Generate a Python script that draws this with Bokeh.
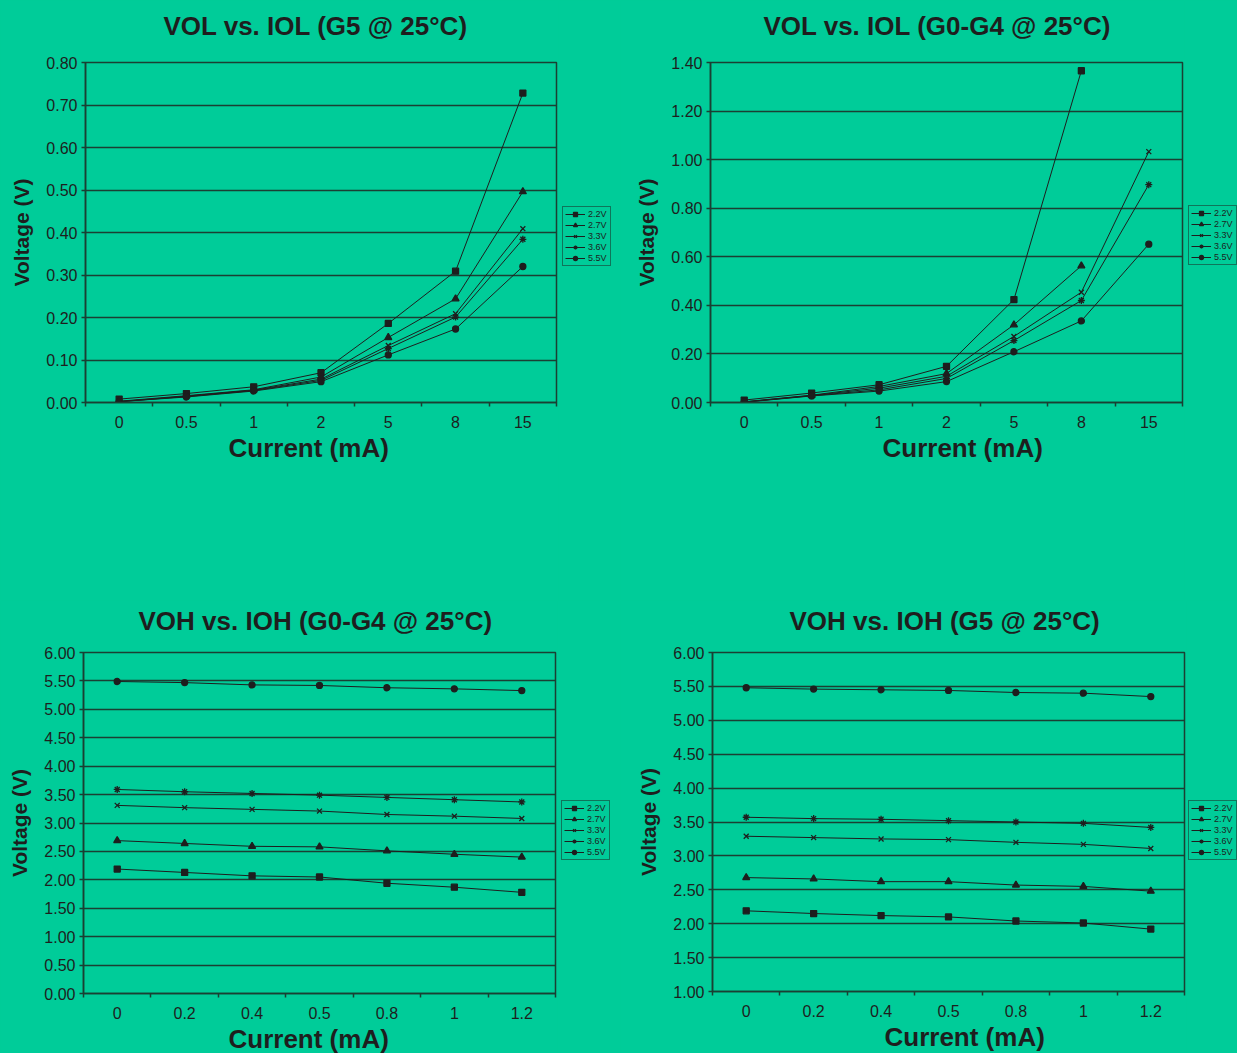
import numpy as np
from bokeh.plotting import figure
from bokeh.models import (Range1d, FixedTicker, CustomJSTickFormatter, Legend,
                          LegendItem, Title, NumeralTickFormatter)
from bokeh.layouts import row, column
from bokeh.embed import file_html
from bokeh.resources import INLINE

nan = float("nan")

# ---------------- data ----------------
series_labels = ["2.2V", "2.7V", "3.3V", "3.6V", "5.5V"]

iol_cats = ["0", "0.5", "1", "2", "5", "8", "15"]
ioh_cats = ["0", "0.2", "0.4", "0.5", "0.8", "1", "1.2"]

# VOL vs IOL (G5 @ 25C)
vol_g5_22 = [0.008, 0.021, 0.037, 0.070, 0.186, 0.309, 0.728]
vol_g5_27 = [0.003, 0.016, 0.030, 0.060, 0.153, 0.244, 0.496]
vol_g5_33 = [0.002, 0.015, 0.029, 0.055, 0.134, 0.209, 0.409]
vol_g5_36 = [0.002, 0.014, 0.028, 0.052, 0.127, 0.201, 0.384]
vol_g5_55 = [0.002, 0.013, 0.027, 0.049, 0.112, 0.173, 0.320]

# VOL vs IOL (G0-G4 @ 25C)
vol_g04_22 = [0.010, 0.039, 0.073, 0.149, 0.424, 1.366, nan]
vol_g04_27 = [0.003, 0.030, 0.066, 0.119, 0.320, 0.563, nan]
vol_g04_33 = [0.002, 0.029, 0.059, 0.108, 0.272, 0.454, 1.033]
vol_g04_36 = [0.002, 0.028, 0.052, 0.099, 0.255, 0.420, 0.897]
vol_g04_55 = [0.001, 0.027, 0.047, 0.086, 0.209, 0.336, 0.652]

# VOH vs IOH (G0-G4 @ 25C)
voh_g04_22 = [2.19, 2.13, 2.07, 2.05, 1.94, 1.87, 1.78]
voh_g04_27 = [2.69, 2.64, 2.59, 2.58, 2.51, 2.45, 2.40]
voh_g04_33 = [3.31, 3.27, 3.24, 3.21, 3.15, 3.12, 3.08]
voh_g04_36 = [3.59, 3.55, 3.52, 3.49, 3.45, 3.41, 3.37]
voh_g04_55 = [5.49, 5.47, 5.43, 5.42, 5.38, 5.36, 5.33]

# VOH vs IOH (G5 @ 25C)
voh_g5_22 = [2.19, 2.15, 2.12, 2.10, 2.04, 2.01, 1.92]
voh_g5_27 = [2.68, 2.66, 2.62, 2.62, 2.57, 2.55, 2.48]
voh_g5_33 = [3.29, 3.27, 3.25, 3.24, 3.20, 3.17, 3.11]
voh_g5_36 = [3.57, 3.55, 3.54, 3.52, 3.50, 3.48, 3.42]
voh_g5_55 = [5.48, 5.46, 5.45, 5.44, 5.41, 5.40, 5.35]

# ---------------- style ----------------
GREEN = "#00CC99"
DARK = "#1e1e1e"
GRID = "#1b3f33"
FONT = "Liberation Sans"
markers = ["square", "triangle", "x", "asterisk", "circle"]
msizes = [6, 7, 7, 7, 6]


def make_chart(title, cats, series, ymin, ymax, ystep, left, fw, top, fh,
               bottom, gap, title_offset, xlab_offset):
    n = len(cats)
    p = figure(frame_width=fw, frame_height=fh,
               min_border_left=left, min_border_right=2,
               min_border_top=top, min_border_bottom=bottom,
               x_range=Range1d(0, n), y_range=Range1d(ymin, ymax),
               output_backend="svg", toolbar_location=None, tools="")
    p.background_fill_color = GREEN
    p.border_fill_color = GREEN
    p.outline_line_color = GRID
    p.outline_line_width = 1.5

    # visible chart title (the built-in title is stacked outermost)
    p.title.text = title
    p.title.align = "left"
    p.title.offset = title_offset
    p.title.standoff = 0
    p.title.text_font = FONT
    p.title.text_font_size = "26px"
    p.title.text_font_style = "bold"
    p.title.text_color = DARK
    # background-coloured spacer between the frame and the title
    sp = Title(text=".", text_font_size="2px", text_color=GREEN, standoff=gap)
    p.add_layout(sp, "above")

    # x axis: labels at category centres, tick marks at category boundaries
    xa = p.xaxis[0]
    xa.ticker = FixedTicker(ticks=[i + 0.5 for i in range(n)],
                            minor_ticks=list(range(n + 1)))
    xa.formatter = CustomJSTickFormatter(args=dict(labels=cats),
                                         code="return labels[Math.floor(tick)];")
    xa.major_tick_line_color = None
    xa.major_tick_out = 0
    xa.major_tick_in = 0
    xa.minor_tick_out = 4
    xa.minor_tick_in = 0
    xa.minor_tick_line_color = GRID
    xa.minor_tick_line_width = 1.5
    xa.axis_line_color = GRID
    xa.axis_line_width = 1.5
    xa.major_label_standoff = 9
    xa.major_label_text_font = FONT
    xa.major_label_text_font_size = "16px"
    xa.major_label_text_color = DARK

    nt = int(round((ymax - ymin) / ystep))
    ya = p.yaxis[0]
    ya.ticker = FixedTicker(ticks=[round(ymin + i * ystep, 4) for i in range(nt + 1)])
    ya.formatter = NumeralTickFormatter(format="0.00")
    ya.minor_tick_line_color = None
    ya.major_tick_out = 4
    ya.major_tick_in = 0
    ya.major_tick_line_color = GRID
    ya.major_tick_line_width = 1.5
    ya.axis_line_color = GRID
    ya.axis_line_width = 1.5
    ya.major_label_standoff = 4
    ya.major_label_text_font = FONT
    ya.major_label_text_font_size = "16px"
    ya.major_label_text_color = DARK
    ya.axis_label = "Voltage (V)"
    ya.axis_label_text_font = FONT
    ya.axis_label_text_font_size = "21px"
    ya.axis_label_text_font_style = "bold"
    ya.axis_label_text_color = DARK
    ya.axis_label_standoff = 10

    p.xgrid.visible = False
    p.ygrid.grid_line_color = GRID
    p.ygrid.grid_line_width = 1.5

    xl = Title(text="Current (mA)", align="left", text_font=FONT,
               text_font_size="26px", text_font_style="bold", text_color=DARK,
               standoff=0, offset=xlab_offset)
    p.add_layout(xl, "below")

    xs = np.array([i + 0.5 for i in range(n)], dtype=float)
    for ys, m, s in zip(series, markers, msizes):
        ya_arr = np.array(ys, dtype=float)
        p.line(xs, ya_arr, line_color=DARK, line_width=1)
        p.scatter(xs, ya_arr, marker=m, size=s, line_color=DARK,
                  fill_color=DARK, line_width=1.3)
    return p


def make_legend_panel(width, top, fh, bottom, loc):
    """A narrow green strip beside a chart (same frame geometry) holding its legend."""
    lf = figure(frame_width=width, frame_height=fh,
                min_border_left=0, min_border_right=0,
                min_border_top=top, min_border_bottom=bottom,
                x_range=Range1d(0, 1), y_range=Range1d(0, 1),
                x_axis_location=None, y_axis_location=None,
                output_backend="svg", toolbar_location=None, tools="")
    lf.background_fill_color = GREEN
    lf.border_fill_color = GREEN
    lf.outline_line_color = None
    lf.grid.visible = False
    hidden = np.array([nan])
    items = []
    for lab, m, s in zip(series_labels, markers, msizes):
        lr = lf.line(x=hidden, y=hidden, line_color=DARK, line_width=1)
        sr = lf.scatter(x=hidden, y=hidden, marker=m, size=s, line_color=DARK,
                        fill_color=DARK, line_width=1.3)
        items.append(LegendItem(label=lab, renderers=[lr, sr]))
    leg = Legend(items=items, location=loc)
    leg.border_line_color = DARK
    leg.border_line_width = 1.5
    leg.background_fill_color = GREEN
    leg.background_fill_alpha = 1
    leg.label_text_font = FONT
    leg.label_text_font_size = "9px"
    leg.label_text_color = DARK
    leg.glyph_width = 20
    leg.glyph_height = 10
    leg.label_height = 10
    leg.spacing = 1
    leg.padding = 2
    leg.margin = 0
    leg.label_standoff = 3
    lf.add_layout(leg)
    return lf


p1 = make_chart("VOL vs. IOL (G5 @ 25°C)", iol_cats,
                [vol_g5_22, vol_g5_27, vol_g5_33, vol_g5_36, vol_g5_55],
                0.0, 0.8, 0.1, 85, 471, 62, 340, 198, 19, 78, 143)
p2 = make_chart("VOL vs. IOL (G0-G4 @ 25°C)", iol_cats,
                [vol_g04_22, vol_g04_27, vol_g04_33, vol_g04_36, vol_g04_55],
                0.0, 1.4, 0.2, 90, 472, 62, 340, 198, 19, 53, 172)
p3 = make_chart("VOH vs. IOH (G0-G4 @ 25°C)", ioh_cats,
                [voh_g04_22, voh_g04_27, voh_g04_33, voh_g04_36, voh_g04_55],
                0.0, 6.0, 0.5, 83, 472, 52, 341, 60, 14, 55, 145)
p4 = make_chart("VOH vs. IOH (G5 @ 25°C)", ioh_cats,
                [voh_g5_22, voh_g5_27, voh_g5_33, voh_g5_36, voh_g5_55],
                1.0, 6.0, 0.5, 92, 472, 52, 339, 62, 14, 77, 172)

l1 = make_legend_panel(62, 62, 340, 198, (4, 136))
l2 = make_legend_panel(53, 62, 340, 198, (4, 137))
l3 = make_legend_panel(63, 52, 341, 60, (4, 133))
l4 = make_legend_panel(51, 52, 339, 62, (2, 131))

bg = {"background-color": GREEN}
layout = column(row(p1, l1, p2, l2, styles=bg), row(p3, l3, p4, l4, styles=bg), styles=bg)
open("out.html", "w").write(file_html(layout, INLINE))
